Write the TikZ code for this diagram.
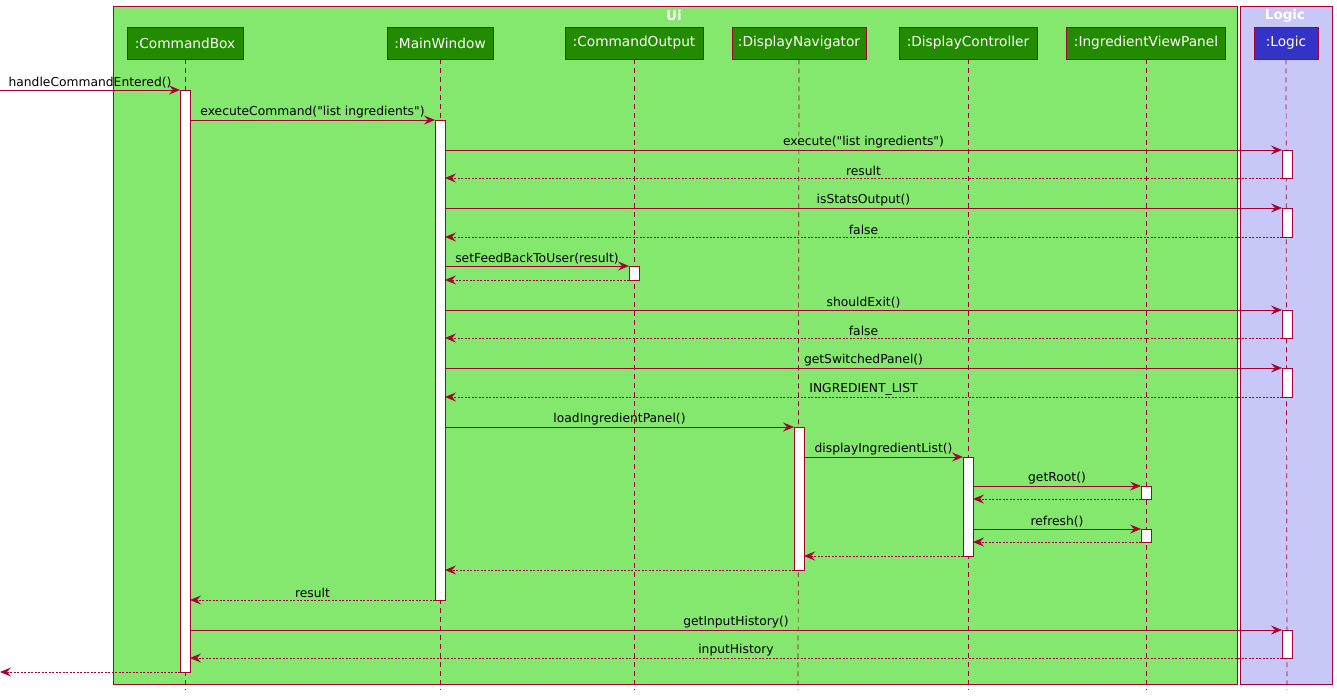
\documentclass[tikz,border=0pt]{standalone}
\usepackage{fontspec}
\newfontfamily\dvfont{DejaVu Sans}
\usetikzlibrary{arrows.meta}
\definecolor{crim}{HTML}{A80036}
\definecolor{uibg}{HTML}{84E76E}
\definecolor{lgbg}{HTML}{C8C8F8}
\definecolor{hdgreen}{HTML}{228B00}
\definecolor{hdblue}{HTML}{3333C8}
\newcommand{\umlmsg}[6]{%
  \coordinate (#1-a) at (#2,#4);
  \coordinate (#1-b) at (#3,#4);
  \draw[#6] (#1-a) -- node[lbl]{#5} (#1-b);}
\begin{document}
\begin{tikzpicture}[x=1pt,y=-1pt,
  box/.style={draw=crim,line width=0.9pt},
  hdr/.style={draw=crim,line width=0.9pt,fill=hdgreen,text=white,minimum height=32pt,inner sep=0pt,font=\dvfont\fontsize{13.7}{15}\selectfont},
  title/.style={text=white,font=\dvfont\bfseries\fontsize{13.5}{15}\selectfont},
  life/.style={draw=crim,line width=0.7pt,dash pattern=on 5pt off 4pt},
  act/.style={draw=crim,line width=0.9pt,fill=white},
  lbl/.style={above,inner sep=1.5pt,text=black,font=\dvfont\fontsize{12.3}{14}\selectfont},
  call/.style={draw=crim,line width=0.8pt,-{Stealth[length=11pt,width=9pt,inset=4pt]}},
  ret/.style={draw=crim,line width=0.8pt,dash pattern=on 2pt off 1.5pt,-{Stealth[length=11pt,width=9pt,inset=4pt]}}]
\useasboundingbox (0,0) rectangle (1337,696);
\fill[white] (0,0) rectangle (1337,696);
% packages
\node[box,fill=uibg,minimum width=1124pt,minimum height=678pt,anchor=north west,inner sep=0pt] (ui) at (113,6) {};
\node[box,fill=lgbg,minimum width=92pt,minimum height=678pt,anchor=north west,inner sep=0pt] (lg) at (1240,6) {};
\node[title] (uit) at (674,15) {Ui};
\node[title] (lgt) at (1285,16) {Logic};
% lifeline headers
\node[hdr,minimum width=116pt] (cb) at (185,43) {:CommandBox};
\node[hdr,minimum width=106pt] (mw) at (440,43) {:MainWindow};
\node[hdr,minimum width=138pt] (co) at (634,43) {:CommandOutput};
\node[hdr,minimum width=134pt] (dn) at (799,43) {:DisplayNavigator};
\node[hdr,minimum width=138pt] (dc) at (968,43) {:DisplayController};
\node[hdr,minimum width=159pt] (iv) at (1146,43) {:IngredientViewPanel};
\node[hdr,minimum width=64pt,fill=hdblue] (lo) at (1286,43) {:Logic};
% lifelines
\foreach \n/\x in {cb/185,mw/440,co/634,dn/798,dc/968,iv/1146,lo/1287}{
  \coordinate (\n-end) at (\x,690);
  \draw[life] (\n.south) -- (\n-end);
}
% activation bars
\node[act,anchor=north,minimum width=10pt,minimum height=582pt,inner sep=0pt] (cbA) at (185,90) {};
\node[act,anchor=north,minimum width=10pt,minimum height=480pt,inner sep=0pt] (mwA) at (440,120) {};
\node[act,anchor=north,minimum width=10pt,minimum height=28pt,inner sep=0pt] (lo1) at (1287,150) {};
\node[act,anchor=north,minimum width=10pt,minimum height=29pt,inner sep=0pt] (lo2) at (1287,208) {};
\node[act,anchor=north,minimum width=10pt,minimum height=14pt,inner sep=0pt] (coA) at (634,266) {};
\node[act,anchor=north,minimum width=10pt,minimum height=28pt,inner sep=0pt] (lo3) at (1287,310) {};
\node[act,anchor=north,minimum width=10pt,minimum height=29pt,inner sep=0pt] (lo4) at (1287,368) {};
\node[act,anchor=north,minimum width=10pt,minimum height=143pt,inner sep=0pt] (dnA) at (799,427) {};
\node[act,anchor=north,minimum width=10pt,minimum height=99pt,inner sep=0pt] (dcA) at (968,457) {};
\node[act,anchor=north,minimum width=10pt,minimum height=13pt,inner sep=0pt] (iv1) at (1146,486) {};
\node[act,anchor=north,minimum width=10pt,minimum height=13pt,inner sep=0pt] (iv2) at (1146,529) {};
\node[act,anchor=north,minimum width=10pt,minimum height=28pt,inner sep=0pt] (lo5) at (1287,630) {};
% messages
\umlmsg{m1}{0}{180}{90}{handleCommandEntered()}{call}
\umlmsg{m2}{190}{435}{120}{executeCommand("list ingredients")}{call}
\umlmsg{m3}{445}{1282}{150}{execute("list ingredients")}{call}
\umlmsg{m4}{1282}{445}{178}{result}{ret}
\umlmsg{m5}{445}{1282}{208}{isStatsOutput()}{call}
\umlmsg{m6}{1282}{445}{237}{false}{ret}
\umlmsg{m7}{445}{629}{266}{setFeedBackToUser(result)}{call}
\umlmsg{m8}{629}{445}{280}{}{ret}
\umlmsg{m9}{445}{1282}{310}{shouldExit()}{call}
\umlmsg{m10}{1282}{445}{338}{false}{ret}
\umlmsg{m11}{445}{1282}{368}{getSwitchedPanel()}{call}
\umlmsg{m12}{1282}{445}{397}{INGREDIENT\_LIST}{ret}
\umlmsg{m13}{445}{794}{427}{loadIngredientPanel()}{call}
\umlmsg{m14}{804}{963}{457}{displayIngredientList()}{call}
\umlmsg{m15}{973}{1141}{486}{getRoot()}{call}
\umlmsg{m16}{1141}{973}{499}{}{ret}
\umlmsg{m17}{973}{1141}{529}{refresh()}{call}
\umlmsg{m18}{1141}{973}{542}{}{ret}
\umlmsg{m19}{963}{804}{556}{}{ret}
\umlmsg{m20}{794}{445}{570}{}{ret}
\umlmsg{m21}{435}{190}{600}{result}{ret}
\umlmsg{m22}{190}{1282}{630}{getInputHistory()}{call}
\umlmsg{m23}{1282}{190}{658}{inputHistory}{ret}
\umlmsg{m24}{180}{0}{672}{}{ret}
\end{tikzpicture}
\end{document}
